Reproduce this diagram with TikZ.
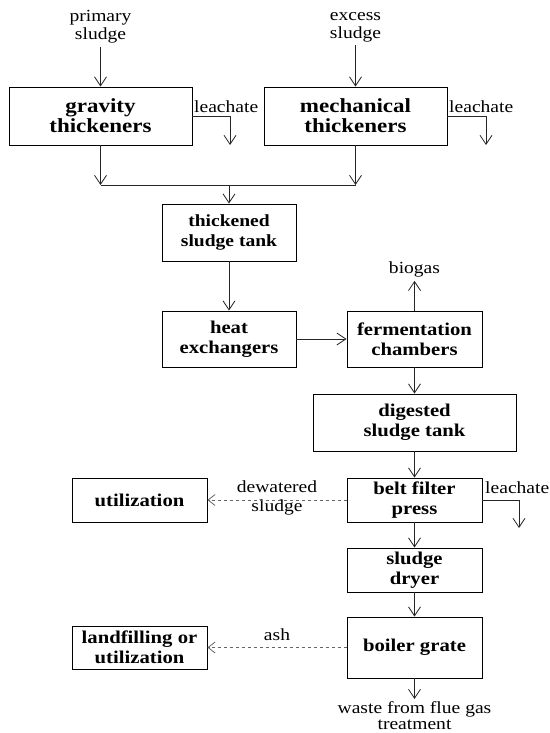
\documentclass[tikz,border=0pt]{standalone}
\usepackage{fontspec}
\setmainfont{Liberation Serif}[
  FakeStretch=1.15,
  BoldFont={Liberation Serif Bold},
  BoldFeatures={FakeStretch=1.15}]
\usetikzlibrary{arrows.meta}
\begin{document}
\begin{tikzpicture}[x=1pt,y=-1pt,
  box/.style={draw=black, line width=0.9pt, inner sep=0pt, align=center,
              font=\fontsize{18}{20}\selectfont\bfseries},
  bigbox/.style={box, font=\fontsize{20}{20}\selectfont\bfseries},
  lbl/.style={inner sep=0pt, align=center, font=\fontsize{17}{18}\selectfont},
  flow/.style={line width=0.8pt, draw=black!85, -{Straight Barb[length=9pt,width=12pt]}},
  plain/.style={line width=0.8pt, draw=black!85},
  dflow/.style={line width=0.8pt, draw=black!60, dash pattern=on 3pt off 3pt,
                -{Straight Barb[length=7pt,width=11pt]}}
]
\useasboundingbox (0,0) rectangle (549,733);

% boxes
\node[bigbox, minimum width=183pt, minimum height=58pt] (grav) at (100.5,116) {gravity\\thickeners};
\node[bigbox, minimum width=183pt, minimum height=58pt] (mech) at (355.5,116) {mechanical\\thickeners};
\node[box, font=\fontsize{17}{20}\selectfont\bfseries, minimum width=134pt, minimum height=57pt] (thick) at (229,232.5) {thickened\\sludge tank};
\node[box, minimum width=134pt, minimum height=56pt] (heat) at (229,339) {heat\\exchangers};
\node[box, minimum width=135pt, minimum height=56pt] (ferm) at (414.5,339) {fermentation\\chambers};
\node[box, minimum width=203pt, minimum height=57pt] (dig) at (414.5,422.5) {digested\\sludge tank};
\node[box, minimum width=135pt, minimum height=44pt] (belt) at (414.5,500) {belt filter\\press};
\node[box, minimum width=135pt, minimum height=44pt] (util) at (139.5,500) {utilization};
\node[box, minimum width=135pt, minimum height=44pt] (dryer) at (414.5,570) {sludge\\dryer};
\node[box, minimum width=135pt, minimum height=61pt] (boiler) at (414.5,647.5) {boiler grate};
\node[box, minimum width=135pt, minimum height=43pt] (land) at (139.5,647.5) {landfilling or\\utilization};

% labels
\node[lbl] (prim) at (100.5,27) {primary\\sludge};
\node[lbl] (exc) at (355.5,27) {excess\\sludge};
\node[lbl, anchor=base west] (lgt) at (194,113) {leachate};
\node[lbl, anchor=base west] (lmt) at (449,113) {leachate};
\node[lbl, anchor=base] (bio) at (414.5,273) {biogas};
\node[lbl, anchor=base west] (lbt) at (485,493) {leachate};
\node[lbl, font=\fontsize{17}{19}\selectfont] (dew) at (277,497.5) {dewatered\\sludge};
\node[lbl, anchor=base] (ash) at (277,640) {ash};
\node[lbl, font=\fontsize{17}{16.5}\selectfont] (waste) at (414.5,715.5) {waste from flue gas\\treatment};

% coordinates
\coordinate (lg) at (230,145);
\coordinate (lm) at (486,145);
\coordinate (lb) at (519,528);
\coordinate (j1) at (100.5,185);
\coordinate (j2) at (355.5,185);
\coordinate (j3) at (229,185);

% connectors
\draw[flow, shorten <=3pt] (prim.south) -- (grav.north);
\draw[flow, shorten <=3pt] (exc.south) -- (mech.north);
\draw[flow] (grav.east) -| (lg);
\draw[flow] (mech.east) -| (lm);
\draw[flow] (grav.south) -- (j1);
\draw[flow] (mech.south) -- (j2);
\draw[plain] (j1) -- (j2);
\draw[flow] (j3) -- (thick.north);
\draw[flow] (thick) -- (heat);
\draw[flow] (heat) -- (ferm);
\draw[flow, shorten >=4pt] (ferm.north) -- (bio.south);
\draw[flow] (ferm) -- (dig);
\draw[flow] (dig) -- (belt);
\draw[flow] (belt.east) -| (lb);
\draw[dflow] (belt.west) -- (util.east);
\draw[flow] (belt) -- (dryer);
\draw[flow] (dryer) -- (boiler);
\draw[dflow] (boiler.west) -- (land.east);
\draw[flow, shorten >=2pt] (boiler.south) -- (waste.north);
\end{tikzpicture}
\end{document}
